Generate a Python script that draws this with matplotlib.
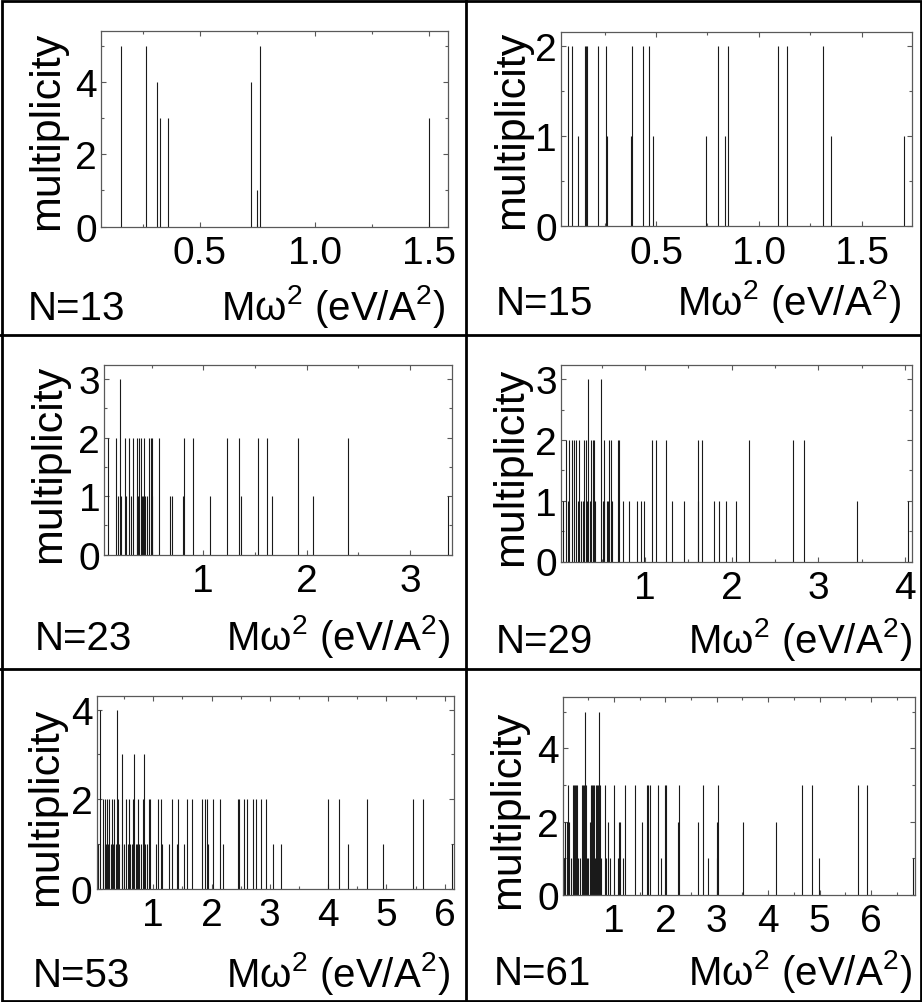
import matplotlib
matplotlib.use("Agg")
from matplotlib import pyplot as plt
from matplotlib.ticker import MultipleLocator, FormatStrFormatter
from matplotlib.patches import Rectangle
from matplotlib.lines import Line2D

plt.rcParams['font.family']      = ['Liberation Sans', 'DejaVu Sans']
plt.rcParams['mathtext.fontset'] = 'custom'
plt.rcParams['mathtext.rm']      = 'Liberation Sans'
plt.rcParams['mathtext.it']      = 'Liberation Sans:italic'

# cluster sizes, one panel each
CLUSTERS = [13, 15, 23, 29, 53, 61]

# M*omega^2 positions (eV/A^2) and multiplicities
N13_X = [0.154, 0.264, 0.312, 0.327, 0.359, 0.721, 0.748, 0.761, 1.500]
N13_M = [5, 5, 4, 3, 3, 4, 1, 5, 3]

N15_X = [0.074, 0.093, 0.119, 0.155, 0.159, 0.166, 0.219, 0.255, 0.262, 0.378, 0.385,
         0.438, 0.466, 0.487, 0.743, 0.800, 0.835, 0.848, 1.091, 1.135, 1.310, 1.350, 1.705]
N15_M = [2, 2, 1, 2, 2, 2, 2, 2, 1, 1, 2,
         2, 2, 1, 1, 2, 1, 2, 2, 2, 2, 1, 1]

N23_X = [0.081, 0.158, 0.171, 0.194, 0.203, 0.238, 0.248, 0.283, 0.300, 0.323, 0.355,
         0.358, 0.368, 0.381, 0.394, 0.403, 0.413, 0.426, 0.440, 0.452, 0.475, 0.491,
         0.500, 0.507, 0.576, 0.677, 0.694, 0.807, 0.816, 0.905, 1.065, 1.226, 1.344,
         1.362, 1.530, 1.613, 1.668, 1.914, 2.065, 2.397, 3.366]
N23_M = [2, 2, 1, 3, 1, 2, 1, 2, 1, 2, 1,
         2, 1, 2, 2, 1, 1, 2, 1, 1, 2, 2,
         1, 2, 2, 1, 1, 1, 2, 2, 1, 2, 2,
         1, 2, 2, 1, 2, 1, 2, 1]

N29_X = [0.058, 0.090, 0.116, 0.127, 0.161, 0.185, 0.200, 0.231, 0.239, 0.262, 0.289,
         0.296, 0.320, 0.327, 0.346, 0.366, 0.377, 0.397, 0.416, 0.423, 0.489, 0.512,
         0.527, 0.531, 0.558, 0.577, 0.589, 0.608, 0.623, 0.685, 0.704, 0.750, 0.816,
         0.904, 0.954, 0.993, 1.077, 1.127, 1.239, 1.308, 1.454, 1.608, 1.616, 1.654,
         1.796, 1.854, 1.935, 2.047, 2.200, 2.704, 2.835, 3.443, 4.030]
N29_M = [1, 2, 1, 2, 2, 2, 2, 1, 2, 1, 1,
         2, 2, 1, 3, 1, 2, 2, 2, 1, 3, 1,
         2, 1, 1, 1, 2, 2, 1, 2, 2, 1, 1,
         1, 1, 1, 2, 2, 2, 1, 1, 2, 1, 2,
         1, 1, 1, 1, 2, 2, 2, 1, 1]

N53_X = [0.057, 0.090, 0.131, 0.143, 0.172, 0.189, 0.212, 0.229, 0.240, 0.269, 0.298,
         0.315, 0.332, 0.360, 0.372, 0.400, 0.417, 0.458, 0.469, 0.503, 0.526, 0.560,
         0.583, 0.600, 0.629, 0.658, 0.669, 0.698, 0.726, 0.743, 0.755, 0.783, 0.829,
         0.840, 0.858, 0.898, 0.932, 0.943, 1.040, 1.086, 1.132, 1.143, 1.275, 1.315,
         1.412, 1.429, 1.532, 1.572, 1.658, 1.830, 1.887, 1.915, 1.944, 2.030, 2.144,
         2.190, 2.447, 2.470, 2.556, 2.613, 2.704, 2.756, 2.847, 2.933, 3.048, 3.185,
         4.002, 4.185, 4.340, 4.671, 4.935, 5.460, 5.632, 6.118]
N53_M = [1, 4, 2, 1, 2, 1, 2, 1, 2, 1, 2,
         1, 2, 1, 4, 2, 1, 1, 3, 1, 2, 1,
         2, 1, 1, 2, 3, 1, 1, 2, 1, 1, 2,
         3, 1, 1, 2, 2, 1, 2, 2, 1, 1, 2,
         1, 2, 1, 2, 2, 2, 2, 2, 1, 2, 2,
         1, 2, 2, 2, 2, 2, 2, 2, 2, 1, 1,
         2, 2, 1, 2, 1, 2, 2, 1]

N61_X = [0.034, 0.047, 0.079, 0.099, 0.111, 0.131, 0.163, 0.196, 0.209, 0.222, 0.241,
         0.254, 0.261, 0.287, 0.293, 0.338, 0.371, 0.390, 0.403, 0.423, 0.436, 0.449,
         0.468, 0.501, 0.533, 0.552, 0.578, 0.585, 0.598, 0.617, 0.630, 0.643, 0.663,
         0.682, 0.695, 0.708, 0.728, 0.747, 0.825, 0.838, 0.890, 0.922, 1.000, 1.084,
         1.097, 1.117, 1.182, 1.214, 1.408, 1.551, 1.636, 1.668, 1.700, 1.849, 1.914,
         1.992, 2.012, 2.252, 2.271, 2.628, 2.738, 2.835, 2.998, 3.010, 3.030, 3.516,
         4.152, 4.657, 4.846, 4.982, 5.741, 5.922, 6.810]
N61_M = [1, 2, 2, 1, 3, 2, 1, 3, 1, 3, 3,
         1, 3, 3, 1, 1, 3, 3, 1, 3, 5, 3,
         1, 1, 2, 3, 3, 2, 3, 3, 1, 3, 3,
         3, 1, 5, 3, 1, 3, 1, 2, 1, 3, 1,
         2, 2, 1, 3, 3, 2, 3, 3, 3, 3, 1,
         3, 3, 2, 3, 2, 3, 1, 1, 2, 3, 2,
         2, 3, 3, 1, 3, 3, 1]

SPECTRA = [(N13_X, N13_M), (N15_X, N15_M), (N23_X, N23_M),
           (N29_X, N29_M), (N53_X, N53_M), (N61_X, N61_M)]

W, H = 922, 1003
px  = lambda x, y: (x / W, 1 - y / H)

# pixel layout: axes box (l, t, r, b), xlim, ymax, x major/minor, y major/minor,
# x format, ylabel centre, N= left/baseline, xlabel right/baseline
LAYOUT = [
    ((101.0,  31.7, 448.3, 227.7), (0.068, 1.584), 5.41, 0.5, 0.25, 2, 1.0, '%.1f',
     (46.7, 130.8), (28, 320), (445, 320)),
    ((561.0,  32.7, 911.7, 227.3), (0.038, 1.743), 2.16, 0.5, 0.25, 1, 0.5, '%.1f',
     (512.0, 130.0), (496, 315), (901, 315)),
    ((104.3, 366.0, 452.3, 555.7), (0.042, 3.410), 3.24, 1.0, 0.5, 1, 0.5, '%d',
     (49.2, 464.0), (35, 650), (450, 650)),
    ((561.0, 365.5, 911.7, 562.5), (0.031, 4.078), 3.245, 1.0, 0.5, 1, 0.5, '%d',
     (511.0, 466.7), (496, 653), (912, 653)),
    ((96.7, 696.7, 454.0, 890.0), (0.030, 6.160), 4.31, 1.0, 0.5, 2, 1.0, '%d',
     (45.8, 806.7), (33, 987), (450, 987)),
    ((563.3, 697.7, 915.0, 895.7), (0.014, 6.856), 5.41, 1.0, 0.5, 2, 1.0, '%d',
     (508.5, 810.0), (494, 985), (912, 985)),
]

fig = plt.figure(figsize=(W / 100, H / 100), dpi=100)

for n, (xs, ms), lay in zip(CLUSTERS, SPECTRA, LAYOUT):
    (l, t, r, b), xlim, ymax, xmaj, xmin, ymaj, ymin, xfmt, ylab, ntxt, xtxt = lay
    ax = fig.add_axes([l / W, 1 - b / H, (r - l) / W, (b - t) / H])
    ax.vlines(xs, 0, ms, colors='0.1', lw=0.8)
    ax.set_xlim(*xlim)
    ax.set_ylim(0, ymax)
    ax.xaxis.set_major_locator(MultipleLocator(xmaj))
    ax.xaxis.set_minor_locator(MultipleLocator(xmin))
    ax.yaxis.set_major_locator(MultipleLocator(ymaj))
    ax.yaxis.set_minor_locator(MultipleLocator(ymin))
    ax.xaxis.set_major_formatter(FormatStrFormatter(xfmt))
    ax.tick_params(which='both', direction='in', top=True, right=True,
                   color='0.35', labelsize=28)
    ax.tick_params(axis='x', pad=6)
    ax.tick_params(axis='y', pad=3)
    ax.tick_params(which='major', length=3.5, width=0.8)
    ax.tick_params(which='minor', length=2.5, width=0.8)
    for s in ax.spines.values():
        s.set_color('0.35')
        s.set_linewidth(0.9)

    fig.text(*px(*ylab), 'multiplicity', rotation=90, fontsize=31,
             ha='center', va='center')
    fig.text(*px(*ntxt), f'N={n}', fontsize=29, ha='left', va='baseline')
    fig.text(*px(*xtxt), 'Mω$^2$ (eV/A$^2$)', fontsize=29,
             ha='right', va='baseline')

# cell frame
fig.add_artist(Rectangle((1.5 / W, 1.5 / H), 1 - 3 / W, 1 - 3 / H,
                         transform=fig.transFigure, fill=False, lw=2, color='k'))
fig.add_artist(Line2D([466 / W] * 2, [0, 1], transform=fig.transFigure, lw=2, color='k'))
for yy in (335.5, 670.0):
    fig.add_artist(Line2D([0, 1], [1 - yy / H] * 2, transform=fig.transFigure,
                          lw=2, color='k'))

fig.savefig('out.png', dpi=100)
